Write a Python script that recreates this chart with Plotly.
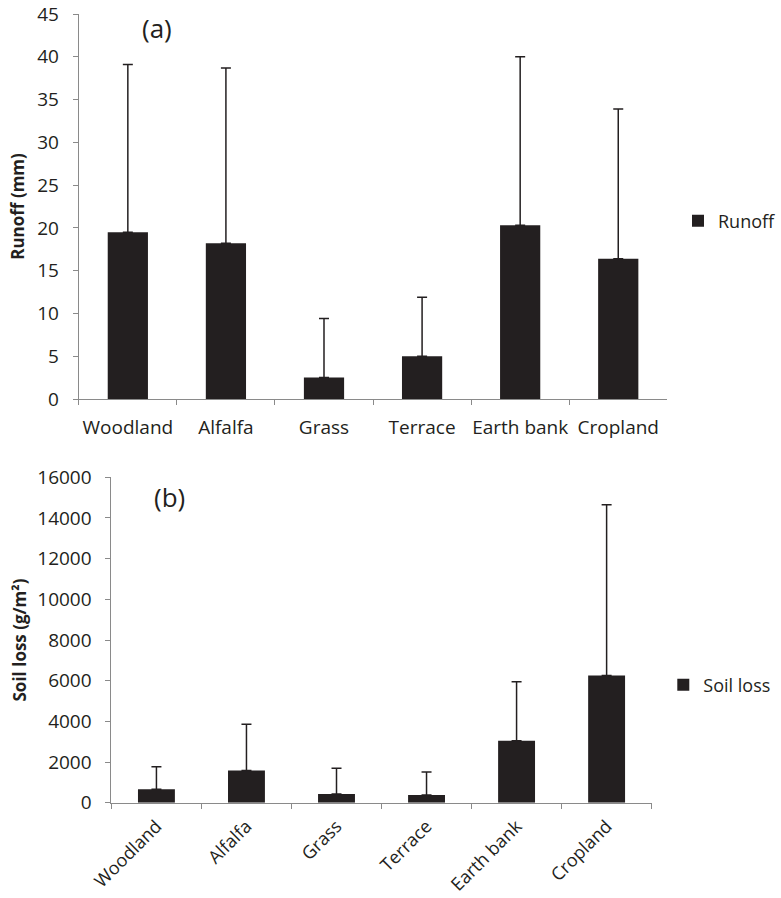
import plotly.graph_objects as go

categories = ["Woodland", "Alfalfa", "Grass", "Terrace", "Earth bank", "Cropland"]
runoff = [19.5, 18.2, 2.5, 5.0, 20.3, 16.4]
runoff_err = [19.6, 20.5, 6.9, 6.9, 19.7, 17.5]
soil_loss = [660, 1580, 430, 380, 3050, 6250]
soil_loss_err = [1110, 2280, 1270, 1130, 2900, 8400]
zeros = [0, 0, 0, 0, 0, 0]

W, H = 781, 898
BAR = "#231f20"
AX = "#8a8a8a"
FONT = "Open Sans"

def px_x(v):
    return v / W

def px_y(v):
    return 1 - v / H

fig = go.Figure()
fig.add_trace(go.Bar(
    x=categories, y=runoff, name="Runoff", marker=dict(color=BAR, line=dict(width=0)),
    error_y=dict(type="data", symmetric=False, array=runoff_err, arrayminus=zeros,
                 color=BAR, thickness=1.5, width=5),
    xaxis="x", yaxis="y", legend="legend",
))
fig.add_trace(go.Bar(
    x=categories, y=soil_loss, name="Soil loss", marker=dict(color=BAR, line=dict(width=0)),
    error_y=dict(type="data", symmetric=False, array=soil_loss_err, arrayminus=zeros,
                 color=BAR, thickness=1.5, width=5),
    xaxis="x2", yaxis="y2", legend="legend2",
))

xcommon = dict(showline=True, linecolor=AX, linewidth=1, ticks="outside", tickcolor=AX,
               ticklen=5, tickson="boundaries", showgrid=False, automargin=False,
               range=[-0.5, 5.5])
ycommon = dict(showline=True, linecolor=AX, linewidth=1, ticks="outside", tickcolor=AX,
               ticklen=5, showgrid=False, zeroline=False, automargin=False,
               ticklabelstandoff=10, tickformat="d",
               tickfont=dict(family=FONT, size=19, color="#231f20"))

fig.update_layout(
    width=W, height=H, margin=dict(l=0, r=0, t=0, b=0),
    plot_bgcolor="white", paper_bgcolor="white",
    bargap=0.59,
    font=dict(family=FONT, color="#231f20"),
    xaxis=dict(domain=[px_x(79), px_x(669)], anchor="y", tickangle=0, ticklabelstandoff=11,
               tickfont=dict(family=FONT, size=19, color="#231f20"), **xcommon),
    yaxis=dict(domain=[px_y(399), px_y(14)], anchor="x", range=[0, 45], dtick=5,
               title=dict(text="<b>Runoff (mm)</b>", font=dict(family=FONT, size=17), standoff=8),
               **ycommon),
    xaxis2=dict(domain=[px_x(111.7), px_x(653.3)], anchor="y2", tickangle=-45,
                ticklabelstandoff=5, tickfont=dict(family=FONT, size=18, color="#231f20"),
                **xcommon),
    yaxis2=dict(domain=[px_y(802.7), px_y(477.3)], anchor="x2", range=[0, 16000], dtick=2000,
                title=dict(text="<b>Soil loss (g/m²)</b>", font=dict(family=FONT, size=17), standoff=6),
                **ycommon),
    legend=dict(x=px_x(680), y=px_y(221), xanchor="left", yanchor="middle",
                font=dict(family=FONT, size=18), itemwidth=30, bgcolor="rgba(0,0,0,0)"),
    legend2=dict(x=px_x(665), y=px_y(685), xanchor="left", yanchor="middle",
                 font=dict(family=FONT, size=18), itemwidth=30, bgcolor="rgba(0,0,0,0)"),
    showlegend=True,
    annotations=[
        dict(text="(a)", x=px_x(157), y=px_y(28), xref="paper", yref="paper",
             showarrow=False, font=dict(family=FONT, size=26), xanchor="center", yanchor="middle"),
        dict(text="(b)", x=px_x(170), y=px_y(497), xref="paper", yref="paper",
             showarrow=False, font=dict(family=FONT, size=26), xanchor="center", yanchor="middle"),
    ],
)

fig.write_html(
    "out.html",
    config={"displayModeBar": False},
    post_script="document.body.style.margin='0';document.body.style.overflow='hidden';",
)
